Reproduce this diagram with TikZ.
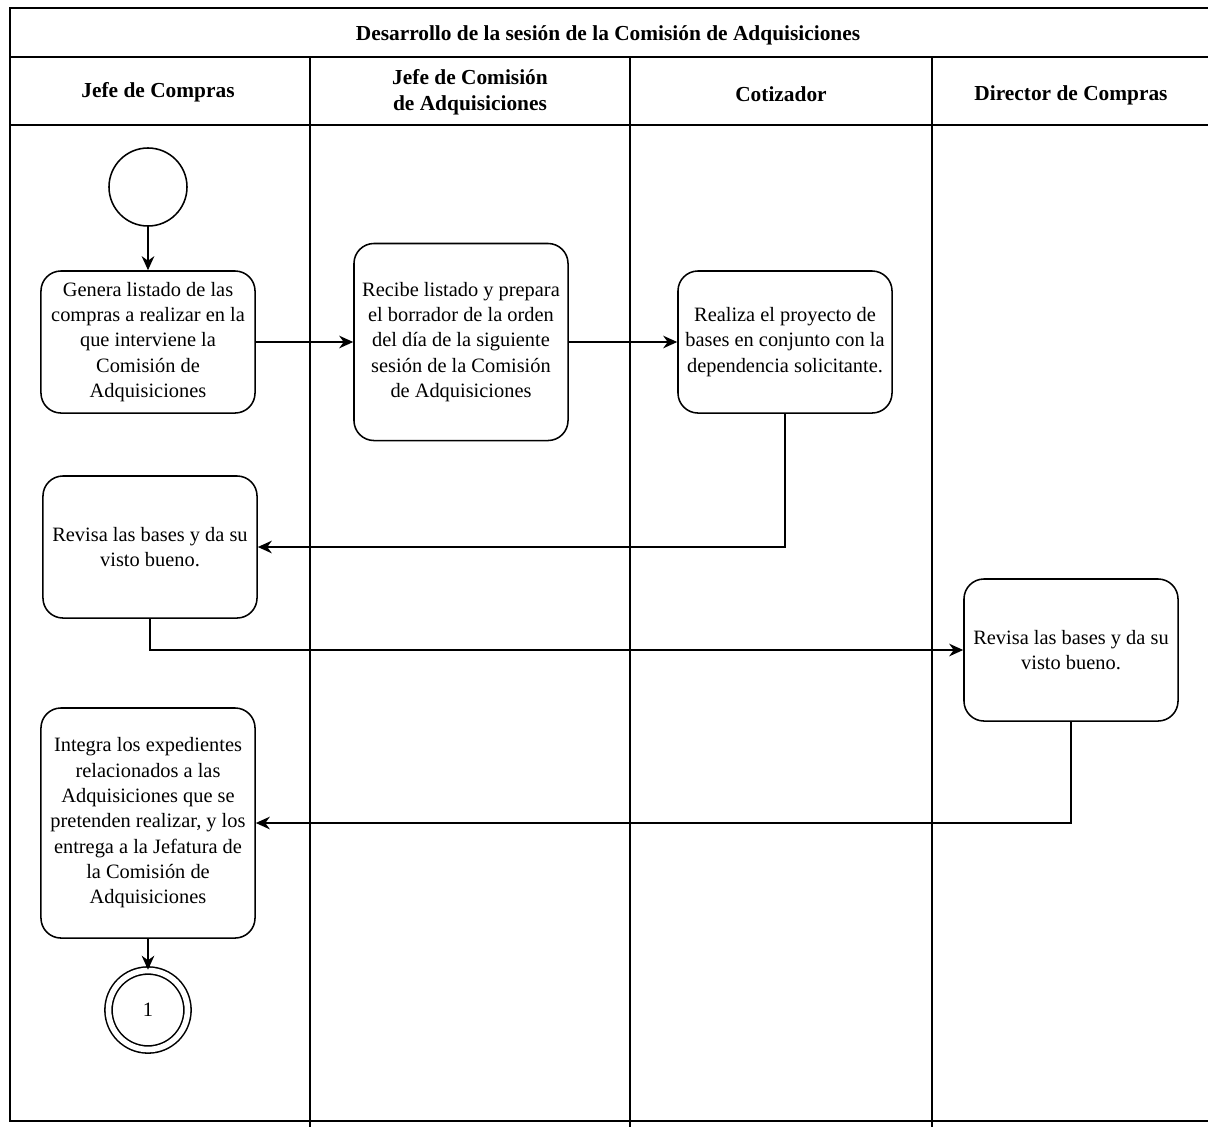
\documentclass[tikz,border=0pt]{standalone}
\usepackage{fontspec}
\setmainfont{Liberation Serif}
\usetikzlibrary{arrows.meta}

\begin{document}
\begin{tikzpicture}[x=0.025cm, y=-0.025cm, font=\fontsize{14.5}{18}\selectfont,
    proceso/.style={draw, line width=1.1pt, rounded corners=0.5cm, align=center, minimum width=5.35cm, minimum height=3.55cm, inner sep=1pt},
    flecha/.style={-{Stealth[length=10pt, width=9pt]}, line width=1.1pt},
    carril/.style={line width=1.1pt},
    encabezado/.style={align=center, font=\fontsize{15.2}{18.5}\selectfont\bfseries}]

    \useasboundingbox (0,0) rectangle (1208,1127);

    % --- Marco y carriles ---
    \draw[carril] (1208,8) -- (10,8) -- (10,1121) -- (1208,1121);
    \draw[carril] (10,57) -- (1208,57);
    \draw[carril] (10,125) -- (1208,125);
    \foreach \x in {310,630,932}
        \draw[carril] (\x,57) -- (\x,1127);

    % --- Encabezados ---
    \node[encabezado] (titulo) at (608,35) {Desarrollo de la sesión de la Comisión de Adquisiciones};
    \node[encabezado] (jcompras) at (158,92) {Jefe de Compras};
    \node[encabezado] (jcomision) at (470,92) {Jefe de Comisión\\de Adquisiciones};
    \node[encabezado] (cotizador) at (781,94) {Cotizador};
    \node[encabezado] (director) at (1071,95) {Director de Compras};

    % --- Inicio ---
    \node[draw, circle, line width=1.1pt, minimum size=1.95cm] (inicio) at (148,187) {};

    % --- Actividades ---
    \node[proceso] (p1) at (148,342) {Genera listado de las\\compras a realizar en la\\que interviene la\\Comisión de\\Adquisiciones};
    \node[proceso, minimum height=4.925cm] (p2) at (461,342) {Recibe listado y prepara\\el borrador de la orden\\del día de la siguiente\\sesión de la Comisión\\de Adquisiciones};
    \node[proceso] (p3) at (785,342) {Realiza el proyecto de\\bases en conjunto con la\\dependencia solicitante.};
    \node[proceso] (p4) at (150,547) {Revisa las bases y da su\\visto bueno.};
    \node[proceso] (p5) at (1071,650) {Revisa las bases y da su\\visto bueno.};
    \node[proceso, minimum height=5.75cm] (p6) at (148,823) {Integra los expedientes\\relacionados a las\\Adquisiciones que se\\pretenden realizar, y los\\entrega a la Jefatura de\\la Comisión de\\Adquisiciones};

    % --- Conector final ---
    \node[draw, circle, double, line width=1.1pt, double distance=4pt, minimum size=1.975cm] (fin) at (148,1010) {1};

    % --- Flechas ---
    \draw[flecha] (inicio) -- (p1);
    \draw[flecha] (p1) -- (p2);
    \draw[flecha] (p2) -- (p3);
    \draw[flecha] (p3.south) |- (p4.east);
    \draw[flecha] (p4.south) |- (p5.west);
    \draw[flecha] (p5.south) |- (p6.east);
    \draw[flecha] (p6) -- (fin);
\end{tikzpicture}
\end{document}
